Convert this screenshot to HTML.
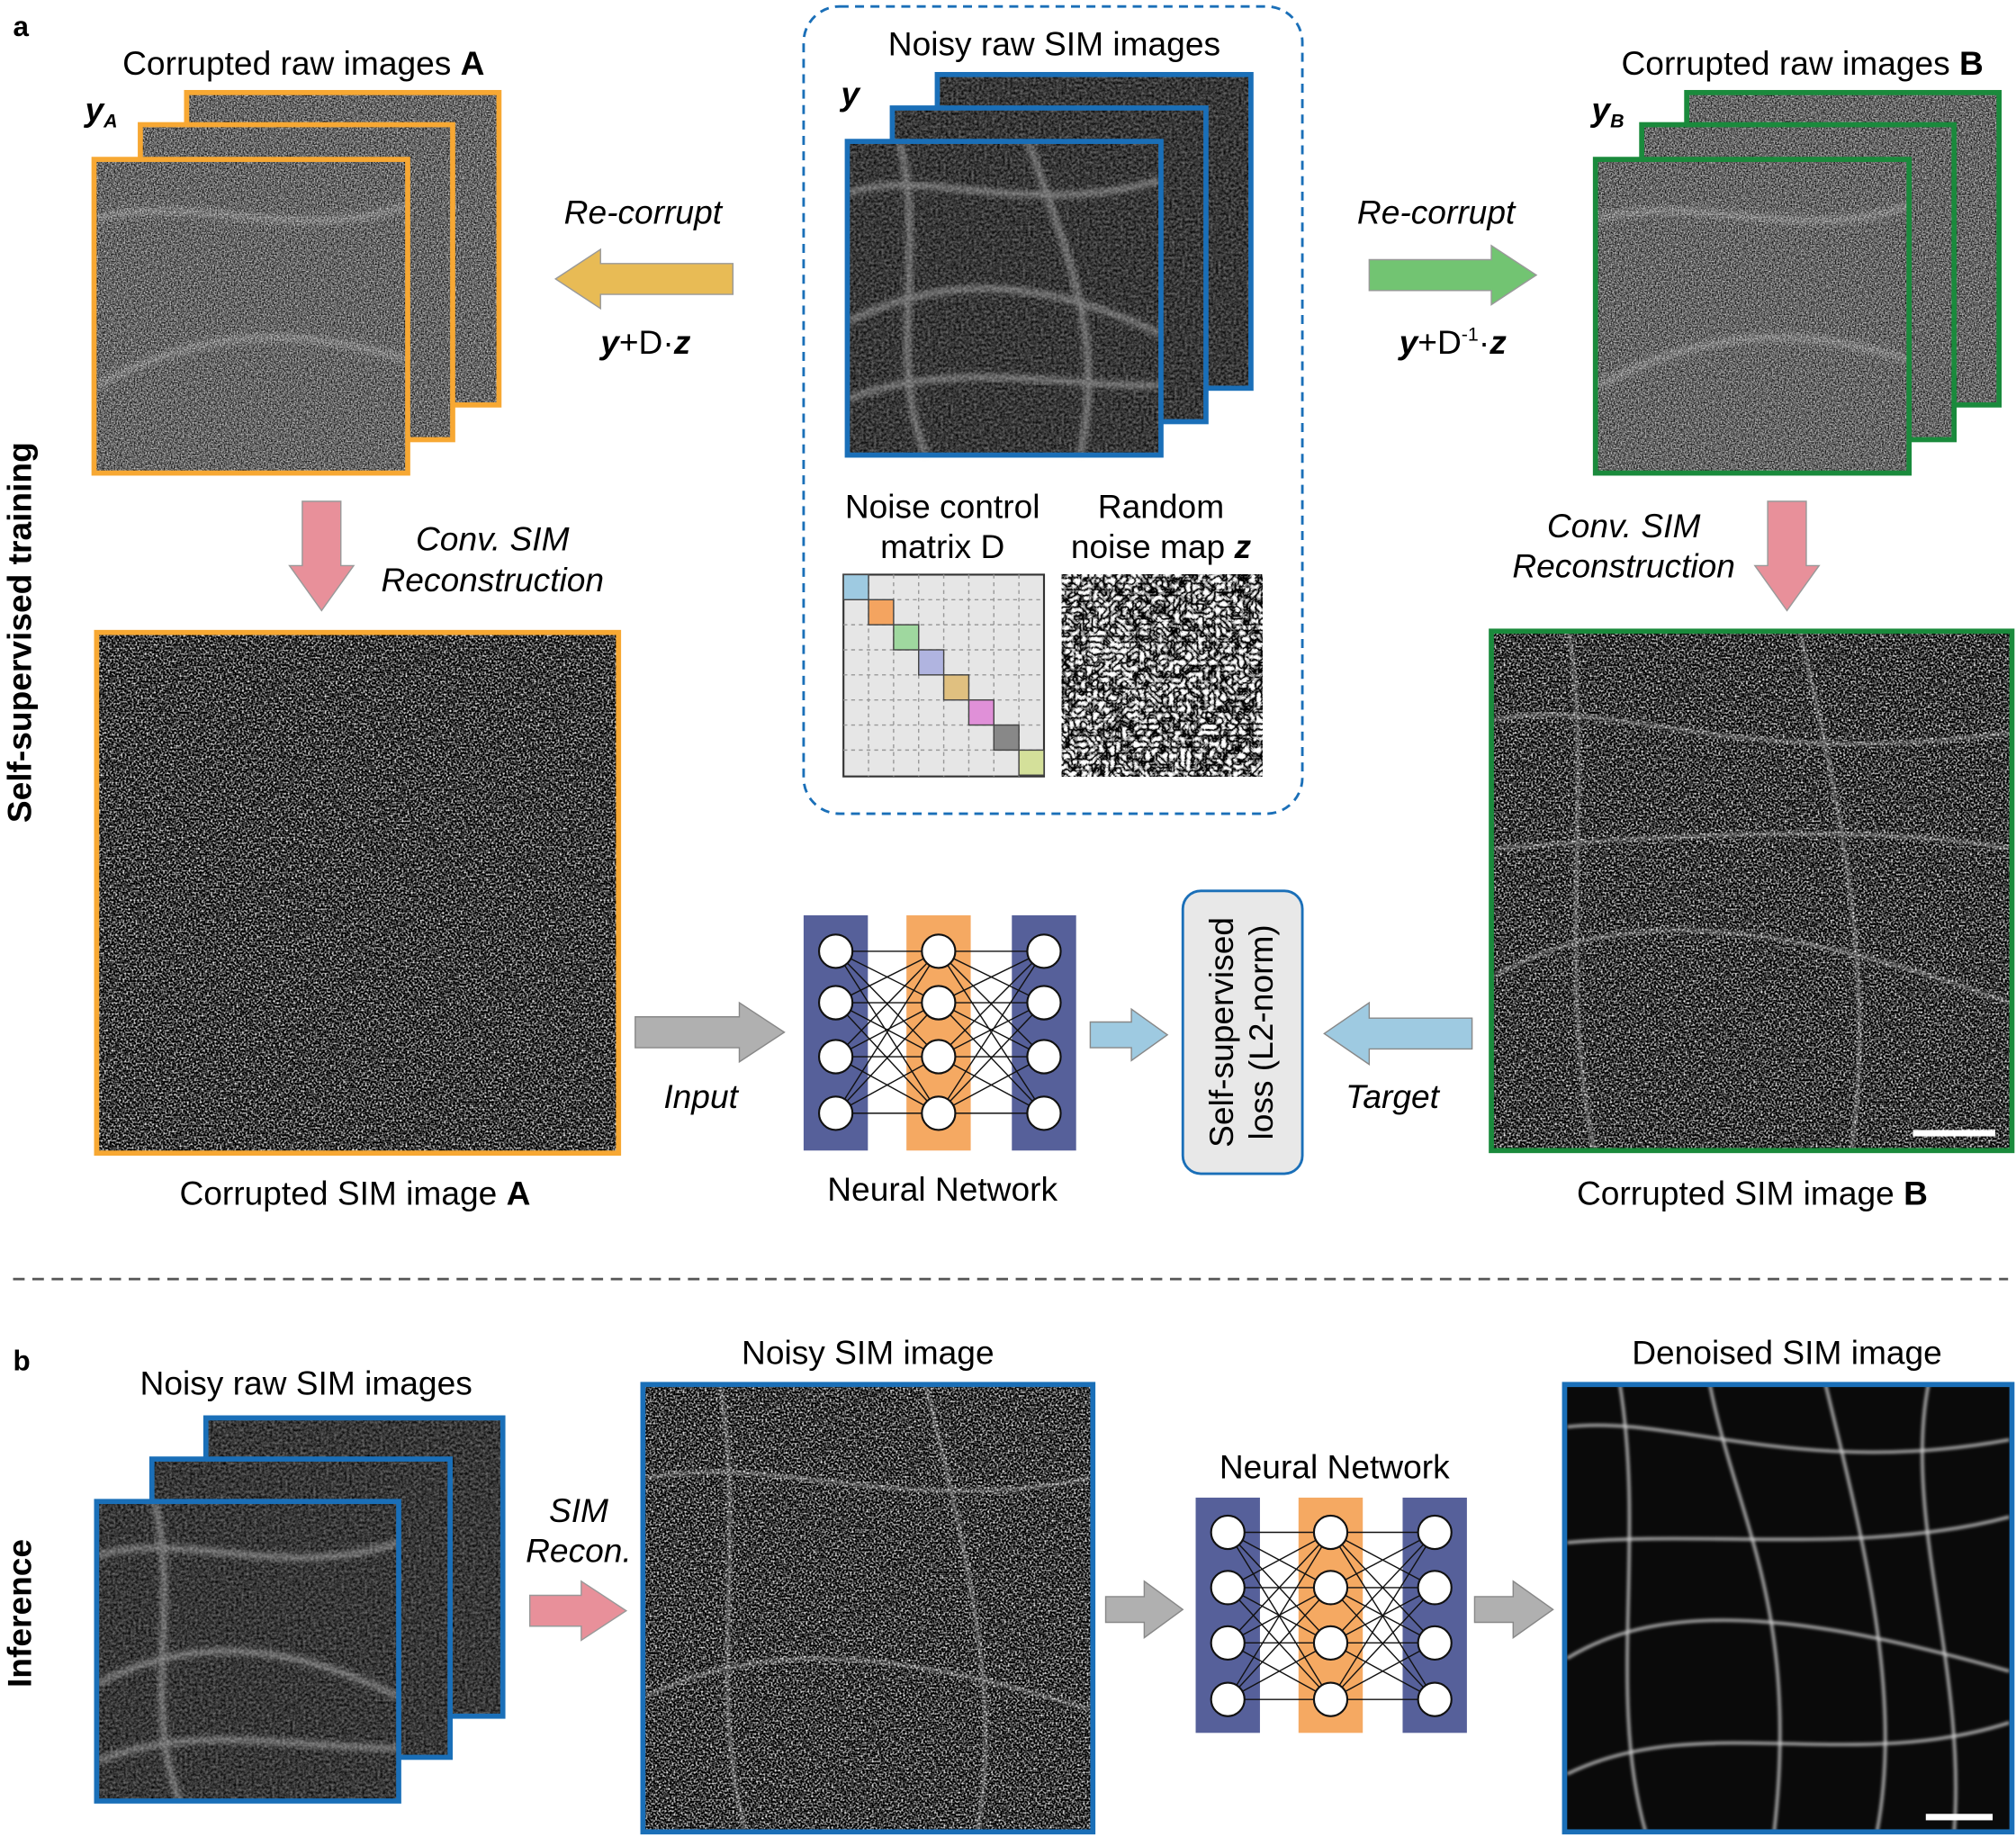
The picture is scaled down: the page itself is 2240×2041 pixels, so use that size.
<!DOCTYPE html>
<html><head><meta charset="utf-8"><style>
html,body{margin:0;padding:0;background:#fff;}
svg{display:block;font-family:"Liberation Sans",Arial,sans-serif;}
</style></head><body>
<svg id="fig" width="2240" height="2041" viewBox="0 0 1568 1429" xmlns="http://www.w3.org/2000/svg" font-size="26">
<defs>
<filter id="rawNoise" x="0" y="0" width="1" height="1" color-interpolation-filters="sRGB">
<feTurbulence type="fractalNoise" baseFrequency="0.9" numOctaves="2" seed="3"/>
<feColorMatrix type="matrix" values="1.3 0 0 0 -0.25  1.3 0 0 0 -0.25  1.3 0 0 0 -0.25  0 0 0 0 1"/>
</filter>
<filter id="simNoise" x="0" y="0" width="1" height="1" color-interpolation-filters="sRGB">
<feTurbulence type="fractalNoise" baseFrequency="0.7" numOctaves="1" seed="7"/>
<feColorMatrix type="matrix" values="2.6 0 0 0 -1.08  2.6 0 0 0 -1.08  2.6 0 0 0 -1.08  0 0 0 0 1"/>
</filter>
<filter id="cleanRaw" x="0" y="0" width="1" height="1" color-interpolation-filters="sRGB">
<feTurbulence type="fractalNoise" baseFrequency="0.5" numOctaves="2" seed="11"/>
<feColorMatrix type="matrix" values="0.6 0 0 0 -0.08  0.6 0 0 0 -0.08  0.6 0 0 0 -0.08  0 0 0 0 1"/>
</filter>
<filter id="pixNoise" x="0" y="0" width="1" height="1" color-interpolation-filters="sRGB">
<feTurbulence type="turbulence" baseFrequency="0.22" numOctaves="2" seed="5"/>
<feColorMatrix type="matrix" values="2 0 0 0 -0.1  2 0 0 0 -0.1  2 0 0 0 -0.1  0 0 0 0 1"/>
<feComponentTransfer><feFuncR type="discrete" tableValues="0 0.3 0.6 0.85 1"/><feFuncG type="discrete" tableValues="0 0.3 0.6 0.85 1"/><feFuncB type="discrete" tableValues="0 0.3 0.6 0.85 1"/></feComponentTransfer>
</filter>
<filter id="blur2"><feGaussianBlur stdDeviation="2"/></filter>
<filter id="blur1"><feGaussianBlur stdDeviation="1.2"/></filter>
</defs>

<text x="10" y="28" font-size="22" font-weight="bold">a</text>
<text x="10" y="1066" font-size="22" font-weight="bold">b</text>
<text transform="translate(24,492) rotate(-90)" text-anchor="middle" font-weight="bold">Self-supervised training</text>
<text transform="translate(24,1255) rotate(-90)" text-anchor="middle" font-weight="bold">Inference</text>

<g>
<text x="236" y="58" text-anchor="middle">Corrupted raw images <tspan font-weight="bold">A</tspan></text>
<text x="66" y="94" font-weight="bold" font-style="italic">y<tspan font-size="15" dy="5">A</tspan></text>
<rect x="145" y="72" width="243" height="243" fill="#333" filter="url(#rawNoise)"/><rect x="145" y="72" width="243" height="243" fill="none" stroke="#f7a833" stroke-width="4"/>
<rect x="109" y="97" width="243" height="245" fill="#333" filter="url(#rawNoise)"/><rect x="109" y="97" width="243" height="245" fill="none" stroke="#f7a833" stroke-width="4"/>
<rect x="73" y="124" width="244" height="244" fill="#333" filter="url(#rawNoise)"/>
<path d="M75 170 C150 150 230 190 317 160 M75 300 C150 260 220 250 317 280" stroke="#fff" stroke-opacity="0.2" stroke-width="6" fill="none" filter="url(#blur2)"/>
<rect x="73" y="124" width="244" height="244" fill="none" stroke="#f7a833" stroke-width="4"/>
</g>

<polygon points="570,205 467,205 467,194 432,217 467,240 467,229 570,229" fill="#e8bb55" stroke="#999" stroke-width="1"/>
<text x="500" y="174" text-anchor="middle" font-style="italic">Re-corrupt</text>
<text x="502" y="275" text-anchor="middle"><tspan font-weight="bold" font-style="italic">y</tspan>+D·<tspan font-weight="bold" font-style="italic">z</tspan></text>
<polygon points="1065,202 1160,202 1160,191 1195,214 1160,237 1160,226 1065,226" fill="#72c472" stroke="#999" stroke-width="1"/>
<text x="1117" y="174" text-anchor="middle" font-style="italic">Re-corrupt</text>
<text x="1130" y="275" text-anchor="middle"><tspan font-weight="bold" font-style="italic">y</tspan>+D<tspan font-size="15" dy="-10">-1</tspan><tspan dy="10">·</tspan><tspan font-weight="bold" font-style="italic">z</tspan></text>

<rect x="625" y="5" width="388" height="628" rx="28" fill="none" stroke="#1a6fb8" stroke-width="2" stroke-dasharray="7,5"/>
<text x="820" y="43" text-anchor="middle">Noisy raw SIM images</text>
<text x="654" y="82" font-weight="bold" font-style="italic">y</text>
<g>
<rect x="729" y="58" width="244" height="244" fill="#222" filter="url(#cleanRaw)"/><rect x="729" y="58" width="244" height="244" fill="none" stroke="#1a6fb8" stroke-width="4"/>
<rect x="694" y="84" width="244" height="244" fill="#222" filter="url(#cleanRaw)"/><rect x="694" y="84" width="244" height="244" fill="none" stroke="#1a6fb8" stroke-width="4"/>
<rect x="659" y="110" width="244" height="244" fill="#2a2a2a" filter="url(#cleanRaw)"/>
<path d="M660 150 C720 130 800 170 903 140 M660 250 C740 210 820 220 903 260 M700 110 C720 200 690 280 720 354 M660 310 C740 280 820 300 903 300 M800 110 C830 200 860 260 840 354" stroke="#ccc" stroke-opacity="0.45" stroke-width="5" fill="none" filter="url(#blur2)"/>
<rect x="659" y="110" width="244" height="244" fill="none" stroke="#1a6fb8" stroke-width="4"/>
</g>
<text x="733" y="403" text-anchor="middle">Noise control</text>
<text x="733" y="434" text-anchor="middle">matrix D</text>
<text x="903" y="403" text-anchor="middle">Random</text>
<text x="903" y="434" text-anchor="middle">noise map <tspan font-weight="bold" font-style="italic">z</tspan></text>
<g id="matrix"></g>
<rect x="826" y="447" width="156" height="157" fill="#888" filter="url(#pixNoise)"/>

<g>
<text x="1402" y="58" text-anchor="middle">Corrupted raw images <tspan font-weight="bold">B</tspan></text>
<text x="1238" y="94" font-weight="bold" font-style="italic">y<tspan font-size="15" dy="5">B</tspan></text>
<rect x="1312" y="72" width="243" height="243" fill="#333" filter="url(#rawNoise)"/><rect x="1312" y="72" width="243" height="243" fill="none" stroke="#1a8a3c" stroke-width="4"/>
<rect x="1277" y="97" width="243" height="245" fill="#333" filter="url(#rawNoise)"/><rect x="1277" y="97" width="243" height="245" fill="none" stroke="#1a8a3c" stroke-width="4"/>
<rect x="1241" y="124" width="244" height="244" fill="#333" filter="url(#rawNoise)"/>
<path d="M1243 170 C1320 150 1400 190 1485 160 M1243 300 C1320 260 1390 250 1485 280" stroke="#fff" stroke-opacity="0.2" stroke-width="6" fill="none" filter="url(#blur2)"/>
<rect x="1241" y="124" width="244" height="244" fill="none" stroke="#1a8a3c" stroke-width="4"/>
</g>

<polygon points="235,390 265,390 265,440 275,440 250,475 225,440 235,440" fill="#e8909a" stroke="#999" stroke-width="1"/>
<text x="383" y="428" text-anchor="middle" font-style="italic">Conv. SIM</text>
<text x="383" y="460" text-anchor="middle" font-style="italic">Reconstruction</text>
<polygon points="1375,390 1405,390 1405,440 1415,440 1390,475 1365,440 1375,440" fill="#e8909a" stroke="#999" stroke-width="1"/>
<text x="1263" y="418" text-anchor="middle" font-style="italic">Conv. SIM</text>
<text x="1263" y="449" text-anchor="middle" font-style="italic">Reconstruction</text>

<g>
<rect x="75" y="492" width="406" height="405" fill="#111" filter="url(#simNoise)"/>
<rect x="75" y="492" width="406" height="405" fill="none" stroke="#f7a833" stroke-width="4"/>
</g>
<text x="276" y="937" text-anchor="middle">Corrupted SIM image <tspan font-weight="bold">A</tspan></text>
<g>
<rect x="1160" y="491" width="405" height="404" fill="#111" filter="url(#simNoise)"/>
<path d="M1162 560 C1250 540 1350 600 1563 570 M1162 760 C1260 700 1400 720 1563 780 M1220 491 C1240 600 1210 750 1240 895 M1400 491 C1430 620 1460 760 1440 895 M1162 660 C1300 650 1450 640 1563 660" stroke="#fff" stroke-opacity="0.35" stroke-width="2.5" fill="none" filter="url(#blur1)"/>
<rect x="1160" y="491" width="405" height="404" fill="none" stroke="#1a8a3c" stroke-width="4"/>
<rect x="1488" y="879" width="64" height="5" fill="#fff"/>
</g>
<text x="1363" y="937" text-anchor="middle">Corrupted SIM image <tspan font-weight="bold">B</tspan></text>

<polygon points="494,791 575,791 575,780 610,803 575,826 575,815 494,815" fill="#b0b0b0" stroke="#888" stroke-width="1"/>
<text x="545" y="862" text-anchor="middle" font-style="italic">Input</text>
<g id="nn1"></g>
<text x="733" y="934" text-anchor="middle">Neural Network</text>
<polygon points="848,795 880,795 880,785 908,805 880,825 880,815 848,815" fill="#9ecae1" stroke="#888" stroke-width="1"/>
<rect x="920" y="693" width="93" height="220" rx="14" fill="#e8e8e8" stroke="#1a6fb8" stroke-width="2"/>
<text transform="translate(959,803) rotate(-90)" text-anchor="middle">Self-supervised</text>
<text transform="translate(990,803) rotate(-90)" text-anchor="middle">loss (L2-norm)</text>
<polygon points="1145,792 1065,792 1065,780 1030,804 1065,828 1065,816 1145,816" fill="#9ecae1" stroke="#888" stroke-width="1"/>
<text x="1083" y="862" text-anchor="middle" font-style="italic">Target</text>

<line x1="10" y1="995" x2="1562" y2="995" stroke="#555" stroke-width="2" stroke-dasharray="9,6"/>

<text x="238" y="1085" text-anchor="middle">Noisy raw SIM images</text>
<g>
<rect x="160" y="1103" width="231" height="232" fill="#222" filter="url(#cleanRaw)"/><rect x="160" y="1103" width="231" height="232" fill="none" stroke="#1a6fb8" stroke-width="4"/>
<rect x="118" y="1135" width="232" height="232" fill="#222" filter="url(#cleanRaw)"/><rect x="118" y="1135" width="232" height="232" fill="none" stroke="#1a6fb8" stroke-width="4"/>
<rect x="75" y="1168" width="235" height="233" fill="#2a2a2a" filter="url(#cleanRaw)"/>
<path d="M76 1210 C140 1190 220 1230 310 1200 M76 1310 C150 1270 230 1280 310 1320 M120 1168 C140 1250 110 1330 140 1401 M76 1370 C150 1340 230 1360 310 1360" stroke="#ccc" stroke-opacity="0.45" stroke-width="5" fill="none" filter="url(#blur2)"/>
<rect x="75" y="1168" width="235" height="233" fill="none" stroke="#1a6fb8" stroke-width="4"/>
</g>
<polygon points="412,1241 452,1241 452,1230 487,1253 452,1276 452,1265 412,1265" fill="#e8909a" stroke="#999" stroke-width="1"/>
<text x="450" y="1184" text-anchor="middle" font-style="italic">SIM</text>
<text x="450" y="1215" text-anchor="middle" font-style="italic">Recon.</text>
<text x="675" y="1061" text-anchor="middle">Noisy SIM image</text>
<g>
<rect x="500" y="1077" width="350" height="348" fill="#111" filter="url(#simNoise)"/>
<path d="M502 1150 C600 1130 700 1180 848 1150 M502 1320 C600 1270 720 1290 848 1330 M560 1077 C580 1200 550 1320 580 1425 M720 1077 C750 1200 780 1320 760 1425" stroke="#fff" stroke-opacity="0.35" stroke-width="2.5" fill="none" filter="url(#blur1)"/>
<rect x="500" y="1077" width="350" height="348" fill="none" stroke="#1a6fb8" stroke-width="4"/>
</g>
<polygon points="860,1242 890,1242 890,1230 920,1252 890,1274 890,1262 860,1262" fill="#b0b0b0" stroke="#888" stroke-width="1"/>
<text x="1038" y="1150" text-anchor="middle">Neural Network</text>
<g id="nn2"></g>
<polygon points="1147,1242 1177,1242 1177,1230 1208,1252 1177,1274 1177,1262 1147,1262" fill="#b0b0b0" stroke="#888" stroke-width="1"/>
<text x="1390" y="1061" text-anchor="middle">Denoised SIM image</text>
<g>
<rect x="1217" y="1077" width="348" height="348" fill="#0a0a0a"/>
<g stroke="#cfcfcf" stroke-width="2.5" fill="none" stroke-opacity="0.8" filter="url(#blur1)">
<path d="M1219 1110 C1300 1100 1400 1150 1563 1120"/>
<path d="M1219 1290 C1300 1240 1420 1260 1563 1300"/>
<path d="M1260 1077 C1280 1200 1250 1320 1280 1425"/>
<path d="M1420 1077 C1450 1200 1480 1320 1460 1425"/>
<path d="M1219 1380 C1320 1330 1440 1380 1563 1340"/>
<path d="M1330 1077 C1350 1180 1400 1250 1380 1425"/>
<path d="M1219 1200 C1330 1190 1450 1210 1563 1180"/>
<path d="M1500 1077 C1480 1180 1530 1300 1520 1425"/>
</g>
<rect x="1217" y="1077" width="348" height="348" fill="none" stroke="#1a6fb8" stroke-width="4"/>
<rect x="1498" y="1411" width="52" height="5" fill="#fff"/>
</g>

<script>
var NS='http://www.w3.org/2000/svg';
var diagColors=['#9ecae1','#f4a460','#9fd89f','#b0b4e0','#e0c080','#e090d8','#888888','#d4e09a'];
(function(){
  var g=document.getElementById('matrix');
  var x0=656,y0=447,s=156/8;
  var bg=document.createElementNS(NS,'rect');
  bg.setAttribute('x',x0);bg.setAttribute('y',y0);bg.setAttribute('width',156);bg.setAttribute('height',157);
  bg.setAttribute('fill','#e6e6e6');bg.setAttribute('stroke','#333');bg.setAttribute('stroke-width','1.5');
  
  
  g.appendChild(bg);
  for(var i=1;i<8;i++){
    var l=document.createElementNS(NS,'line');
    l.setAttribute('x1',x0+i*s);l.setAttribute('x2',x0+i*s);l.setAttribute('y1',y0);l.setAttribute('y2',y0+157);
    l.setAttribute('stroke','#999');l.setAttribute('stroke-dasharray','3,3');
    
    
    g.appendChild(l);
    var h=document.createElementNS(NS,'line');
    h.setAttribute('y1',y0+i*s);h.setAttribute('y2',y0+i*s);h.setAttribute('x1',x0);h.setAttribute('x2',x0+156);
    h.setAttribute('stroke','#999');h.setAttribute('stroke-dasharray','3,3');
    
    
    g.appendChild(h);
  }
  diagColors.forEach(function(c,i){
    var r=document.createElementNS(NS,'rect');
    r.setAttribute('x',x0+i*s);r.setAttribute('y',y0+i*s);r.setAttribute('width',s);r.setAttribute('height',s);
    r.setAttribute('fill',c);r.setAttribute('stroke','#444');r.setAttribute('stroke-width','1');
    
    
    g.appendChild(r);
  });
})();
function buildNN(id,cols,top,bottom,ys){
  var g=document.getElementById(id);
  var fills=['#56609a','#f5a962','#56609a'];
  cols.forEach(function(cx,i){
    var r=document.createElementNS(NS,'rect');
    r.setAttribute('x',cx-25);r.setAttribute('y',top);r.setAttribute('width',50);r.setAttribute('height',bottom-top);
    r.setAttribute('fill',fills[i]);
    
    
    g.appendChild(r);
  });
  for(var c=0;c<2;c++){
    ys.forEach(function(ya){ys.forEach(function(yb){
      var l=document.createElementNS(NS,'line');
      l.setAttribute('x1',cols[c]);l.setAttribute('y1',ya);l.setAttribute('x2',cols[c+1]);l.setAttribute('y2',yb);
      l.setAttribute('stroke','#111');l.setAttribute('stroke-width','1');
      
      
      g.appendChild(l);
    });});
  }
  cols.forEach(function(cx){ys.forEach(function(y){
    var ci=document.createElementNS(NS,'circle');
    ci.setAttribute('cx',cx);ci.setAttribute('cy',y);ci.setAttribute('r',13);
    ci.setAttribute('fill','#fff');ci.setAttribute('stroke','#111');ci.setAttribute('stroke-width','1.5');
    
    
    g.appendChild(ci);
  });});
}
buildNN('nn1',[650,730,812],712,895,[740,780,822,866]);
buildNN('nn2',[955,1035,1116],1165,1348,[1192,1235,1278,1322]);
</script>
</svg>
</body></html>
